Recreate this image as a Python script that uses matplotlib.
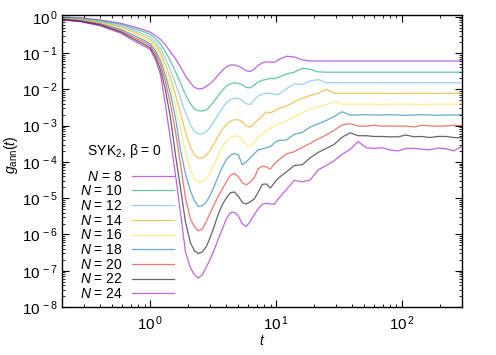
import numpy as np
import matplotlib
matplotlib.use('Agg')
import matplotlib.pyplot as plt
from matplotlib.ticker import LogLocator, NullFormatter, FuncFormatter

plt.rcParams['font.family'] = ['Liberation Sans', 'DejaVu Sans']
plt.rcParams['mathtext.fontset'] = 'custom'
plt.rcParams['mathtext.rm'] = 'Liberation Sans'
plt.rcParams['mathtext.it'] = 'Liberation Sans:italic'
plt.rcParams['mathtext.bf'] = 'Liberation Sans:bold'
plt.rcParams['font.size'] = 10

# time grid
t = [0.2, 0.28, 0.4, 0.58, 0.763, 0.916, 1.0, 1.1, 1.205, 1.319, 1.446, 1.584, 1.735, 1.9, 2.082, 2.239, 2.409,
     2.592, 2.788, 2.999, 3.227, 3.471, 3.734, 4.017, 4.321, 4.648, 5.001, 5.379, 5.786, 6.223, 6.696,
     7.201, 7.748, 8.333, 8.966, 9.643, 10.37,
     12.0, 13.89, 16.07, 18.6, 21.52, 24.91, 28.82, 33.35, 38.59, 44.66, 51.67, 59.77, 69.17, 80.04,
     92.62, 107.2, 124.0, 143.5, 166.1, 192.2, 222.4, 257.4, 300]

# log10 g_ann(t) for each N
log_g_8 = [-0.01, -0.03, -0.09, -0.18, -0.29, -0.38, -0.43, -0.52, -0.63, -0.78, -0.97, -1.16, -1.38, -1.63, -1.82, -1.95, -1.99,
           -1.98, -1.92, -1.84, -1.73, -1.60, -1.48, -1.38, -1.33, -1.33, -1.36, -1.42, -1.49, -1.51, -1.44,
           -1.34, -1.27, -1.24, -1.25, -1.26, -1.19,
           -1.09, -1.11, -1.19, -1.22, -1.22, -1.22, -1.22, -1.22, -1.22, -1.22, -1.22, -1.22, -1.22, -1.22,
           -1.22, -1.22, -1.22, -1.22, -1.22, -1.22, -1.22, -1.22, -1.22]
log_g_10 = [-0.02, -0.05, -0.11, -0.21, -0.34, -0.43, -0.49, -0.60, -0.75, -0.97, -1.22, -1.52, -1.82, -2.15, -2.40, -2.54, -2.59,
            -2.60, -2.57, -2.46, -2.32, -2.17, -2.03, -1.91, -1.85, -1.82, -1.84, -1.88, -1.95, -1.96, -1.88,
            -1.80, -1.75, -1.73, -1.70, -1.71, -1.67,
            -1.58, -1.53, -1.42, -1.45, -1.52, -1.53, -1.53, -1.53, -1.53, -1.53, -1.53, -1.53, -1.53, -1.53,
            -1.53, -1.53, -1.53, -1.53, -1.53, -1.53, -1.53, -1.53, -1.53]
log_g_12 = [-0.03, -0.06, -0.13, -0.25, -0.39, -0.50, -0.56, -0.69, -0.89, -1.16, -1.47, -1.85, -2.24, -2.65, -2.98, -3.16, -3.23,
            -3.23, -3.16, -3.04, -2.87, -2.69, -2.51, -2.37, -2.29, -2.25, -2.25, -2.31, -2.40, -2.42, -2.29,
            -2.18, -2.14, -2.11, -2.11, -2.14, -2.15,
            -1.99, -1.85, -1.87, -1.77, -1.73, -1.82, -1.82, -1.82, -1.82, -1.82, -1.82, -1.82, -1.82, -1.82,
            -1.82, -1.82, -1.82, -1.82, -1.82, -1.82, -1.82, -1.82, -1.82]
log_g_14 = [-0.04, -0.07, -0.15, -0.28, -0.44, -0.56, -0.63, -0.78, -1.00, -1.33, -1.69, -2.15, -2.65, -3.17, -3.59, -3.81, -3.89,
            -3.89, -3.81, -3.67, -3.48, -3.28, -3.10, -2.97, -2.89, -2.84, -2.84, -2.90, -3.01, -3.04, -2.94,
            -2.83, -2.73, -2.62, -2.65, -2.60, -2.53,
            -2.47, -2.35, -2.25, -2.17, -2.11, -2.00, -2.11, -2.11, -2.11, -2.11, -2.11, -2.11, -2.11, -2.11,
            -2.12, -2.11, -2.11, -2.11, -2.11, -2.12, -2.11, -2.11, -2.11]
log_g_16 = [-0.05, -0.09, -0.17, -0.32, -0.49, -0.61, -0.69, -0.86, -1.11, -1.49, -1.93, -2.48, -3.06, -3.72, -4.22, -4.47, -4.56,
            -4.55, -4.45, -4.28, -4.06, -3.81, -3.59, -3.42, -3.33, -3.28, -3.30, -3.39, -3.55, -3.56, -3.44,
            -3.31, -3.23, -3.15, -3.08, -3.01, -2.95,
            -2.88, -2.76, -2.64, -2.55, -2.48, -2.43, -2.33, -2.41, -2.41, -2.41, -2.41, -2.41, -2.42, -2.41,
            -2.41, -2.41, -2.41, -2.42, -2.41, -2.41, -2.41, -2.41, -2.41]
log_g_18 = [-0.06, -0.10, -0.19, -0.35, -0.54, -0.67, -0.75, -0.94, -1.22, -1.63, -2.13, -2.79, -3.67, -4.33, -4.80, -5.07, -5.23,
            -5.21, -5.10, -4.91, -4.66, -4.39, -4.14, -3.94, -3.82, -3.77, -3.81, -4.08, -4.00, -3.89, -3.77,
            -3.67, -3.64, -3.61, -3.58, -3.48, -3.41,
            -3.40, -3.24, -3.19, -3.04, -2.95, -2.86, -2.75, -2.62, -2.71, -2.71, -2.70, -2.71, -2.71, -2.70,
            -2.71, -2.72, -2.71, -2.70, -2.71, -2.72, -2.71, -2.71, -2.70]
log_g_20 = [-0.07, -0.12, -0.21, -0.39, -0.59, -0.72, -0.80, -1.02, -1.33, -1.80, -2.40, -3.17, -4.06, -4.99, -5.57, -5.79, -5.90,
            -5.85, -5.63, -5.40, -5.16, -4.94, -4.74, -4.55, -4.37, -4.32, -4.41, -4.58, -4.63, -4.56, -4.43,
            -4.19, -4.12, -4.14, -4.20, -4.06, -3.96,
            -3.78, -3.72, -3.60, -3.49, -3.37, -3.26, -3.13, -2.98, -2.95, -3.01, -3.02, -2.99, -3.02, -3.01,
            -3.02, -3.01, -3.04, -2.99, -3.01, -3.02, -3.01, -2.99, -3.01]
log_g_22 = [-0.08, -0.13, -0.23, -0.42, -0.64, -0.78, -0.86, -1.11, -1.47, -2.02, -2.79, -3.81, -4.72, -5.65, -6.23, -6.45, -6.53,
            -6.48, -6.33, -6.07, -5.76, -5.43, -5.18, -4.99, -4.85, -4.83, -4.95, -5.12, -5.16, -5.10, -5.02,
            -4.83, -4.62, -4.61, -4.72, -4.58, -4.45,
            -4.28, -4.10, -4.08, -3.89, -3.74, -3.63, -3.52, -3.32, -3.20, -3.28, -3.28, -3.30, -3.30, -3.31,
            -3.31, -3.26, -3.31, -3.30, -3.33, -3.30, -3.30, -3.33, -3.34]
log_g_24 = [-0.09, -0.14, -0.25, -0.45, -0.69, -0.83, -0.91, -1.19, -1.60, -2.43, -3.39, -4.36, -5.40, -6.48, -6.92, -7.11, -7.20,
            -7.11, -6.89, -6.67, -6.41, -6.12, -5.85, -5.57, -5.40, -5.39, -5.49, -5.71, -5.78, -5.64, -5.45,
            -5.29, -5.17, -5.14, -5.16, -5.17, -5.02,
            -4.77, -4.51, -4.55, -4.50, -4.22, -4.10, -3.97, -3.79, -3.66, -3.44, -3.61, -3.63, -3.61, -3.67,
            -3.70, -3.63, -3.63, -3.65, -3.67, -3.62, -3.64, -3.70, -3.56]

N_values = [8, 10, 12, 14, 16, 18, 20, 22, 24]
curves = [log_g_8, log_g_10, log_g_12, log_g_14, log_g_16, log_g_18, log_g_20, log_g_22, log_g_24]
# gnuplot default line colours
colors = ['#9400d3', '#009e73', '#56b4e9', '#e69f00', '#f0e442',
          '#0072b2', '#e51e10', '#000000', '#9400d3']

fig = plt.figure(figsize=(4.96, 3.55), dpi=100)
ax = fig.add_axes([62.3 / 496, 1 - 307 / 355, 400 / 496, 292.5 / 355])

for n, lg, c in zip(N_values, curves, colors):
    ax.plot(t, 10 ** np.array(lg), color=c, lw=0.9, alpha=0.6,
            label='\u2007' * (n < 10) + r'$N$ = %d' % n)

ax.set_xscale('log')
ax.set_yscale('log')
ax.set_xlim(0.2, 300)
ax.set_ylim(1e-8, 1.15)

# gnuplot-like "10 ^e" labels
pow_fmt = FuncFormatter(lambda v, p: r'$10^{\,%d}$' % round(np.log10(v)))
ax.xaxis.set_major_locator(LogLocator(base=10, numticks=10))
ax.yaxis.set_major_locator(LogLocator(base=10, numticks=12))
ax.xaxis.set_major_formatter(pow_fmt)
ax.yaxis.set_major_formatter(pow_fmt)
ax.xaxis.set_minor_locator(LogLocator(base=10, subs=np.arange(2, 10), numticks=20))
ax.yaxis.set_minor_locator(LogLocator(base=10, subs=np.arange(2, 10), numticks=20))
ax.xaxis.set_minor_formatter(NullFormatter())
ax.yaxis.set_minor_formatter(NullFormatter())
ax.tick_params(which='both', direction='in', top=True, right=True, labelsize=11)
ax.tick_params(which='major', length=5, width=0.8)
ax.tick_params(which='minor', length=2.5, width=0.6)
ax.tick_params(axis='x', which='major', pad=5)
ax.tick_params(axis='y', which='major', pad=3)
for s in ax.spines.values():
    s.set_linewidth(1.0)

ax.set_xlabel(r'$t$', fontsize=10, labelpad=1)
ax.set_ylabel(r'$g_{\rm ann}(t)$', fontsize=10)
ax.yaxis.set_label_coords(-0.105, 0.52)

leg = ax.legend(title='\u2007SYK$_2$, \u03b2 = 0', loc='lower right',
                bbox_to_anchor=(0.279, 0.02), frameon=False, markerfirst=False,
                handlelength=3.0, handletextpad=0.7, labelspacing=0.05,
                borderaxespad=0.0, borderpad=0.0, alignment='left',
                fontsize=10, title_fontsize=10)
leg._legend_box.sep = 7
for line in leg.get_lines():
    line.set_alpha(0.6)

fig.savefig('out.png', dpi=100)
